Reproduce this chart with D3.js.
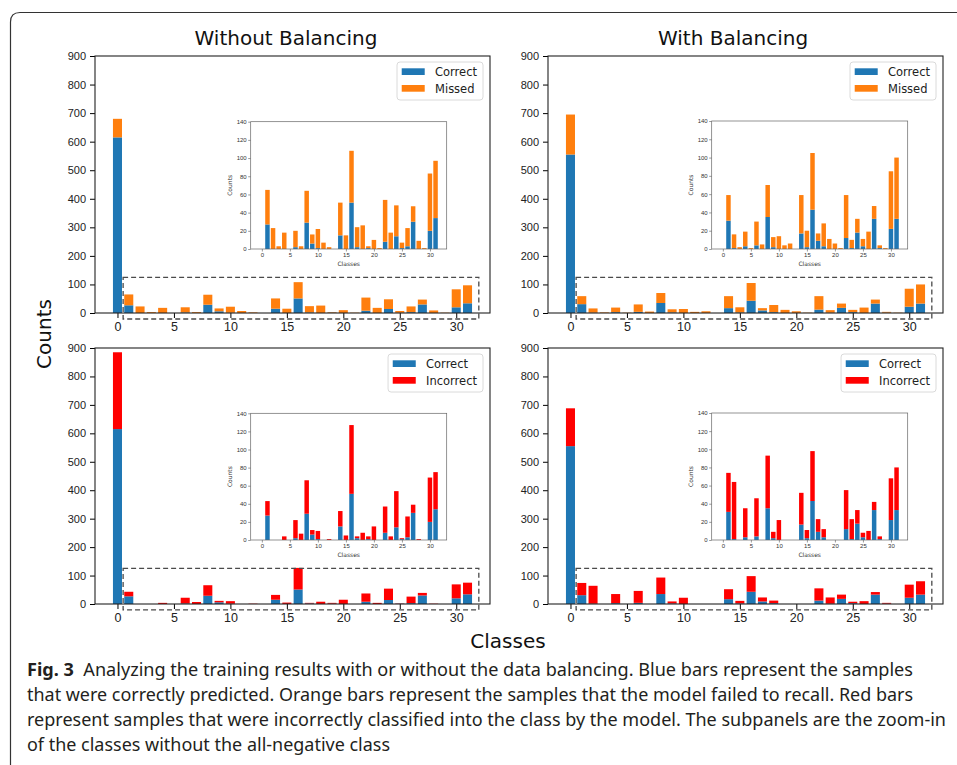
<!DOCTYPE html>
<html>
<head>
<meta charset="utf-8">
<script src="https://cdn.jsdelivr.net/npm/d3@7"></script>
<style>
  body { margin: 0; background: #fff; }
  svg { display: block; font-family: 'DejaVu Sans', sans-serif; }
</style>
</head>
<body>
<div id="chart"></div>
<script>
// class ids 0..31, class 0 is the all-negative class
const classes = d3.range(32);

const correctNoBal = [615, 27, 0, 0, 0, 0, 2, 0, 29, 6, 1, 0, 0, 0, 15, 0, 51, 2, 0, 1, 0, 0, 8, 0, 14, 1, 3, 30, 0, 0, 20, 34];
const missedNoBal = [65, 38, 23, 3, 18, 0, 18, 3, 35, 10, 21, 7, 2, 0, 36, 15, 57, 22, 26, 2, 10, 1, 46, 18, 34, 6, 20, 17, 9, 1, 63, 63];
const incorrectNoBal = [270, 16, 0, 0, 4, 0, 20, 7, 37, 5, 9, 0, 1, 0, 17, 5, 76, 2, 8, 3, 15, 0, 29, 4, 40, 1, 23, 9, 1, 0, 49, 41];

const correctBal = [555, 31, 1, 0, 3, 0, 4, 0, 35, 2, 0, 0, 0, 0, 17, 2, 43, 9, 3, 0, 0, 0, 12, 1, 18, 3, 0, 33, 1, 0, 22, 33];
const missedBal = [140, 28, 15, 2, 16, 1, 26, 5, 35, 11, 14, 4, 6, 0, 42, 18, 62, 8, 25, 11, 6, 1, 47, 9, 15, 8, 19, 14, 3, 1, 63, 67];
const incorrectBal = [133, 43, 63, 0, 32, 0, 42, 0, 58, 7, 22, 0, 0, 0, 35, 9, 55, 14, 9, 0, 0, 0, 43, 22, 15, 5, 10, 9, 3, 0, 46, 47];

const mainYTicks = [0, 100, 200, 300, 400, 500, 600, 700, 800, 900];
const insetYTicks = [0, 20, 40, 60, 80, 100, 120, 140];
const xTicks = [0, 5, 10, 15, 20, 25, 30];

const captionLines = [
  'Analyzing the training results with or without the data balancing. Blue bars represent the samples',
  'that were correctly predicted. Orange bars represent the samples that the model failed to recall. Red bars',
  'represent samples that were incorrectly classified into the class by the model. The subpanels are the zoom-in',
  'of the classes without the all-negative class',
];

const BLUE = '#1f77b4';
const ORANGE = '#ff7f0e';
const RED = '#ff0000';

const W = 957, H = 765;

var svg = d3.select('#chart').append('svg').attr('width', W).attr('height', H);

// journal frame (rounded top-left corner)
svg.append('path')
  .attr('d', 'M10.5,765 V22 Q10.5,12.5 20,12.5 H957')
  .attr('fill', 'none')
  .attr('stroke', '#333')
  .attr('stroke-width', 1.2);

var panels = [
  { x0: 95, x1: 490, y0: 56, y1: 313, inset: [250.7, 446.7, 121.7, 249],
    correct: correctNoBal, other: missedNoBal, otherColor: ORANGE, otherLabel: 'Missed' },
  { x0: 548, x1: 943, y0: 56, y1: 313, inset: [711.7, 907.7, 121, 249],
    correct: correctBal, other: missedBal, otherColor: ORANGE, otherLabel: 'Missed' },
  { x0: 95, x1: 490, y0: 348, y1: 604, inset: [250.7, 446.7, 413.3, 540],
    correct: correctNoBal, other: incorrectNoBal, otherColor: RED, otherLabel: 'Incorrect' },
  { x0: 548, x1: 943, y0: 348, y1: 604, inset: [711.7, 907.7, 413, 540],
    correct: correctBal, other: incorrectBal, otherColor: RED, otherLabel: 'Incorrect' },
];

function drawBars(g, x, y, p, skipZero) {
  var rows = classes
    .filter((c) => !(skipZero && c === 0))
    .map((c) => ({ c: c, a: p.correct[c], b: p.other[c] }));

  g.selectAll('rect.correct')
    .data(rows.filter((d) => d.a > 0))
    .enter()
    .append('rect')
    .attr('class', 'correct')
    .attr('x', (d) => x(d.c - 0.4))
    .attr('width', (d) => x(d.c + 0.4) - x(d.c - 0.4))
    .attr('y', (d) => y(d.a))
    .attr('height', (d) => y(0) - y(d.a))
    .attr('fill', BLUE);

  g.selectAll('rect.other')
    .data(rows.filter((d) => d.b > 0))
    .enter()
    .append('rect')
    .attr('class', 'other')
    .attr('x', (d) => x(d.c - 0.4))
    .attr('width', (d) => x(d.c + 0.4) - x(d.c - 0.4))
    .attr('y', (d) => y(d.a + d.b))
    .attr('height', (d) => y(d.a) - y(d.a + d.b))
    .attr('fill', p.otherColor);
}

function frame(g, x0, x1, y0, y1, color, width) {
  g.append('rect')
    .attr('x', x0).attr('y', y0)
    .attr('width', x1 - x0).attr('height', y1 - y0)
    .attr('fill', 'none')
    .attr('stroke', color)
    .attr('stroke-width', width);
}

panels.forEach((p) => {
  var g = svg.append('g');
  var x = d3.scaleLinear().domain([-1.99, 32.99]).range([p.x0, p.x1]);
  var y = d3.scaleLinear().domain([0, 900]).range([p.y1, p.y0]);

  drawBars(g, x, y, p, false);

  // dashed box marking the zoomed region
  g.append('rect')
    .attr('x', x(0.5)).attr('y', y(125))
    .attr('width', x(32) - x(0.5)).attr('height', y(-21) - y(125))
    .attr('fill', 'none')
    .attr('stroke', '#4a4a4a')
    .attr('stroke-width', 1.3)
    .attr('stroke-dasharray', '5,3');

  var yAxis = g.append('g')
    .attr('transform', `translate(${p.x0},0)`)
    .call(d3.axisLeft(y).tickValues(mainYTicks).tickSize(5).tickPadding(4));
  yAxis.select('.domain').remove();
  yAxis.selectAll('text').attr('font-size', 11).attr('fill', '#222');

  var xAxis = g.append('g')
    .attr('transform', `translate(0,${p.y1})`)
    .call(d3.axisBottom(x).tickValues(xTicks).tickSize(5).tickPadding(4));
  xAxis.select('.domain').remove();
  xAxis.selectAll('text').attr('font-size', 12.5).attr('fill', '#222');

  frame(g, p.x0, p.x1, p.y0, p.y1, '#222', 1.1);

  // inset
  var [ix0, ix1, iy0, iy1] = p.inset;
  var ig = g.append('g');
  ig.append('rect')
    .attr('x', ix0).attr('y', iy0)
    .attr('width', ix1 - ix0).attr('height', iy1 - iy0)
    .attr('fill', '#fff');
  var ix = d3.scaleLinear().domain([-1.99, 32.99]).range([ix0, ix1]);
  var iy = d3.scaleLinear().domain([0, 140]).range([iy1, iy0]);
  drawBars(ig, ix, iy, p, true);

  var iya = ig.append('g')
    .attr('transform', `translate(${ix0},0)`)
    .call(d3.axisLeft(iy).tickValues(insetYTicks).tickSize(2.5).tickPadding(1.5));
  iya.select('.domain').remove();
  iya.selectAll('text').attr('font-size', 6).attr('fill', '#333');
  iya.selectAll('line').attr('stroke', '#555').attr('stroke-width', 0.6);

  var ixa = ig.append('g')
    .attr('transform', `translate(0,${iy1})`)
    .call(d3.axisBottom(ix).tickValues(xTicks).tickSize(2.5).tickPadding(1.5));
  ixa.select('.domain').remove();
  ixa.selectAll('text').attr('font-size', 6).attr('fill', '#333');
  ixa.selectAll('line').attr('stroke', '#555').attr('stroke-width', 0.6);

  frame(ig, ix0, ix1, iy0, iy1, '#666', 0.7);

  ig.append('text')
    .attr('x', (ix0 + ix1) / 2).attr('y', iy1 + 17)
    .attr('text-anchor', 'middle')
    .attr('font-size', 6).attr('fill', '#333')
    .text('Classes');
  ig.append('text')
    .attr('transform', `translate(${ix0 - 19},${(iy0 + iy1) / 2}) rotate(-90)`)
    .attr('text-anchor', 'middle')
    .attr('font-size', 6).attr('fill', '#333')
    .text('Counts');

  // legend
  var lg = g.append('g');
  var items = [{ label: 'Correct', color: BLUE }, { label: p.otherLabel, color: p.otherColor }];
  var box = lg.append('rect');
  var texts = lg.selectAll('text')
    .data(items)
    .enter()
    .append('text')
    .attr('font-size', 11.5)
    .attr('fill', '#222')
    .text((d) => d.label);
  var tw = d3.max(texts.nodes(), (n) => n.getComputedTextLength());
  var bw = 40 + tw + 4;
  var bx = p.x1 - 7 - bw, by = p.y0 + 6;
  box.attr('x', bx).attr('y', by)
    .attr('width', bw).attr('height', 38)
    .attr('rx', 3)
    .attr('fill', '#fff').attr('fill-opacity', 0.8)
    .attr('stroke', '#d0d0d0').attr('stroke-width', 0.8);
  lg.selectAll('rect.patch')
    .data(items)
    .enter()
    .append('rect')
    .attr('class', 'patch')
    .attr('x', bx + 4.7)
    .attr('y', (d, i) => by + 6.3 + i * 16.7)
    .attr('width', 23).attr('height', 6.7)
    .attr('fill', (d) => d.color);
  texts.attr('x', bx + 38).attr('y', (d, i) => by + 14 + i * 16.7);
});

// titles and shared labels
svg.append('text')
  .attr('x', 286).attr('y', 45)
  .attr('text-anchor', 'middle')
  .attr('font-size', 20).attr('fill', '#111')
  .text('Without Balancing');
svg.append('text')
  .attr('x', 733).attr('y', 45)
  .attr('text-anchor', 'middle')
  .attr('font-size', 20).attr('fill', '#111')
  .text('With Balancing');
svg.append('text')
  .attr('transform', 'translate(51,334) rotate(-90)')
  .attr('text-anchor', 'middle')
  .attr('font-size', 20).attr('fill', '#111')
  .text('Counts');
svg.append('text')
  .attr('x', 508).attr('y', 648)
  .attr('text-anchor', 'middle')
  .attr('font-size', 20).attr('fill', '#111')
  .text('Classes');

// caption
var cap = svg.append('g')
  .attr('font-family', "'Noto Sans', sans-serif")
  .attr('font-size', 17.5)
  .attr('fill', '#231f20');
var capWidths = [886, 886, 919, null];
captionLines.forEach((line, i) => {
  var t = cap.append('text')
    .attr('x', 27)
    .attr('y', 676 + i * 25);
  if (i === 0) {
    t.append('tspan').attr('font-weight', 'bold').text('Fig. 3');
    t.append('tspan').text('\u00a0\u00a0' + line);
  } else {
    t.text(line);
  }
  if (capWidths[i]) t.attr('textLength', capWidths[i]).attr('lengthAdjust', 'spacingAndGlyphs');
  else t.attr('textLength', 363).attr('lengthAdjust', 'spacingAndGlyphs');
});
</script>
</body>
</html>
